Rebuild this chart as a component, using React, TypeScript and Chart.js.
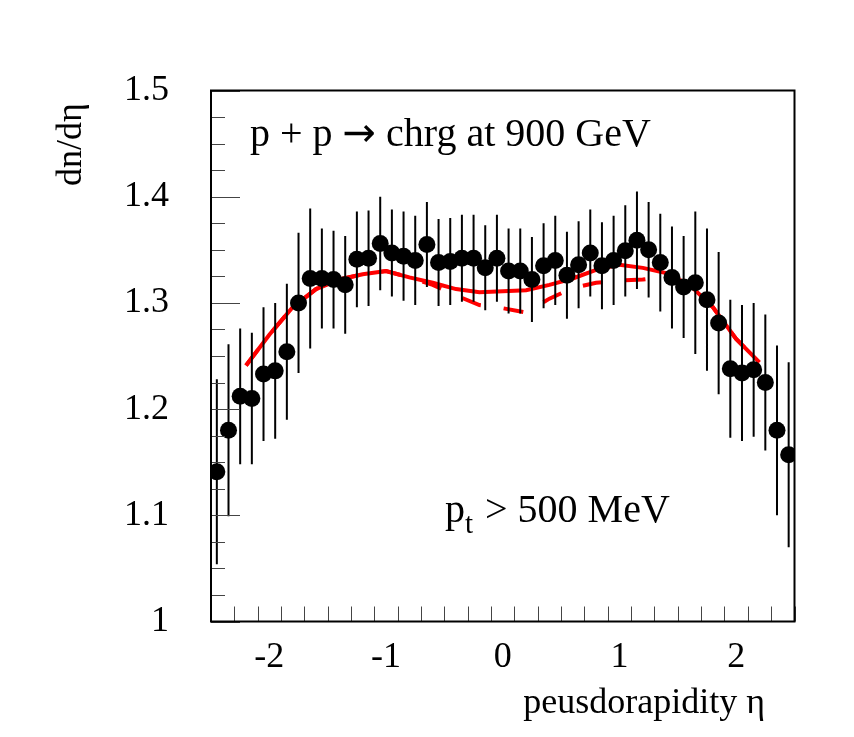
import React, { useEffect, useRef } from "react";
import { Chart, registerables } from "chart.js";

Chart.register(...registerables);

// ---- data ----
const etaValues = [
  -2.45, -2.35, -2.25, -2.15, -2.05, -1.95, -1.85, -1.75, -1.65, -1.55,
  -1.45, -1.35, -1.25, -1.15, -1.05, -0.95, -0.85, -0.75, -0.65, -0.55,
  -0.45, -0.35, -0.25, -0.15, -0.05, 0.05, 0.15, 0.25, 0.35, 0.45,
  0.55, 0.65, 0.75, 0.85, 0.95, 1.05, 1.15, 1.25, 1.35, 1.45,
  1.55, 1.65, 1.75, 1.85, 1.95, 2.05, 2.15, 2.25, 2.35, 2.45,
];
const dndeta = [
  1.141, 1.180, 1.212, 1.210, 1.233, 1.236, 1.254, 1.300, 1.323, 1.323,
  1.322, 1.317, 1.341, 1.342, 1.356, 1.347, 1.344, 1.340, 1.355, 1.338,
  1.339, 1.342, 1.342, 1.333, 1.342, 1.330, 1.330, 1.322, 1.335, 1.340,
  1.326, 1.336, 1.347, 1.335, 1.340, 1.349, 1.359, 1.350, 1.338, 1.324,
  1.315, 1.319, 1.303, 1.281, 1.238, 1.234, 1.237, 1.225, 1.180, 1.157,
];
const dndetaErr = [
  0.087, 0.081, 0.064, 0.062, 0.063, 0.064, 0.064, 0.066, 0.066, 0.047,
  0.046, 0.046, 0.045, 0.045, 0.044, 0.041, 0.042, 0.042, 0.040, 0.041,
  0.041, 0.041, 0.041, 0.040, 0.041, 0.040, 0.040, 0.040, 0.040, 0.042,
  0.041, 0.041, 0.041, 0.041, 0.042, 0.043, 0.046, 0.045, 0.046, 0.048,
  0.048, 0.067, 0.067, 0.067, 0.065, 0.064, 0.063, 0.064, 0.080, 0.087,
];
const modelEta = [
  -2.2, -2.0, -1.8, -1.6, -1.4, -1.2, -1.0, -0.8, -0.6, -0.4, -0.2, 0.0,
  0.2, 0.4, 0.6, 0.8, 1.0, 1.2, 1.4, 1.6, 1.8, 2.0, 2.2,
];
const modelSolid = [
  1.241, 1.270, 1.296, 1.313, 1.322, 1.327, 1.330, 1.324, 1.319, 1.313, 1.310, 1.311,
  1.312, 1.317, 1.323, 1.331, 1.336, 1.333, 1.328, 1.317, 1.296, 1.266, 1.244,
];
const modelDashed = [
  1.241, 1.270, 1.296, 1.313, 1.322, 1.327, 1.330, 1.324, 1.317, 1.307, 1.298, 1.295,
  1.291, 1.304, 1.314, 1.319, 1.321, 1.322, 1.325, 1.317, 1.296, 1.266, 1.244,
];
const xTickValues = [-2, -1, 0, 1, 2];
const xTickLabels = ["-2", "-1", "0", "1", "2"];
const yTickValues = [1, 1.1, 1.2, 1.3, 1.4, 1.5];
const yTickLabels = ["1", "1.1", "1.2", "1.3", "1.4", "1.5"];
const xMinorStep = 0.2;
const yMinorStep = 0.025;
const titleLeft = "p + p ";
const titleArrow = "\u2192";
const titleRight = " chrg at 900 GeV";
const yAxisTitle = "dn/d\u03b7";
const xAxisTitle = "peusdorapidity \u03b7";

const FONT = '"Liberation Serif", "Times New Roman", serif';

const decorPlugin = {
  id: "decor",
  beforeDatasetDraw(chart: any, args: any) {
    if (args.index !== 0) return;
    const { ctx } = chart;
    const x = chart.scales.x;
    const y = chart.scales.y;
    ctx.save();
    ctx.strokeStyle = "#000";
    ctx.lineWidth = 2;
    ctx.beginPath();
    etaValues.forEach((e, i) => {
      const px = x.getPixelForValue(e);
      ctx.moveTo(px, y.getPixelForValue(dndeta[i] - dndetaErr[i]));
      ctx.lineTo(px, y.getPixelForValue(dndeta[i] + dndetaErr[i]));
    });
    ctx.stroke();
    ctx.restore();
  },
  afterDraw(chart: any) {
    const { ctx, chartArea } = chart;
    const x = chart.scales.x;
    const y = chart.scales.y;
    const { left, right, top, bottom } = chartArea;
    ctx.save();
    // ticks (inward)
    ctx.strokeStyle = "#444";
    ctx.lineWidth = 1;
    ctx.beginPath();
    const eps = 1e-6;
    for (let v = x.min; v <= x.max + eps; v += xMinorStep) {
      const vv = Math.round(v * 1000) / 1000;
      const major = xTickValues.some((t) => Math.abs(t - vv) < eps);
      const px = Math.round(x.getPixelForValue(vv)) + 0.5;
      ctx.moveTo(px, bottom);
      ctx.lineTo(px, bottom - (major ? 29 : 15));
    }
    for (let v = y.min; v <= y.max + eps; v += yMinorStep) {
      const vv = Math.round(v * 1000) / 1000;
      const major = yTickValues.some((t) => Math.abs(t - vv) < eps);
      const py = Math.round(y.getPixelForValue(vv)) + 0.5;
      ctx.moveTo(left, py);
      ctx.lineTo(left + (major ? 29 : 14), py);
    }
    ctx.stroke();
    // frame
    ctx.strokeStyle = "#000";
    ctx.lineWidth = 2;
    ctx.strokeRect(left, top, right - left, bottom - top);

    // texts
    ctx.fillStyle = "#000";
    ctx.textBaseline = "alphabetic";
    ctx.textAlign = "left";

    // title line
    let tx = 250;
    ctx.font = `40px ${FONT}`;
    ctx.fillText(titleLeft, tx, 146);
    tx += ctx.measureText(titleLeft).width;
    ctx.font = `40px "DejaVu Sans", sans-serif`;
    ctx.fillText(titleArrow, tx, 146);
    tx += ctx.measureText(titleArrow).width;
    ctx.font = `40px ${FONT}`;
    ctx.fillText(titleRight, tx, 146);

    // p_t > 500 MeV
    tx = 445;
    ctx.font = `40px ${FONT}`;
    ctx.fillText("p", tx, 522);
    tx += ctx.measureText("p").width;
    ctx.font = `29px ${FONT}`;
    ctx.fillText("t", tx, 533);
    tx += ctx.measureText("t").width + 2;
    ctx.font = `40px ${FONT}`;
    ctx.fillText(" > 500 MeV", tx, 522);

    // x axis title
    ctx.font = `36px ${FONT}`;
    ctx.textAlign = "right";
    ctx.fillText(xAxisTitle, 765, 713);

    // y axis title
    ctx.translate(81, 186);
    ctx.rotate(-Math.PI / 2);
    ctx.textAlign = "left";
    ctx.fillText(yAxisTitle, 0, 0);
    ctx.restore();
  },
};

export default function App() {
  const canvasRef = useRef<HTMLCanvasElement | null>(null);

  useEffect(() => {
    const canvas = canvasRef.current;
    if (!canvas) return;
    const chart = new Chart(canvas, {
      type: "scatter",
      data: {
        datasets: [
          {
            label: "data",
            data: etaValues.map((e, i) => ({ x: e, y: dndeta[i] })),
            showLine: false,
            pointRadius: 8.5,
            pointHoverRadius: 8.5,
            pointBackgroundColor: "#000",
            pointBorderWidth: 0,
            borderColor: "#000",
            order: 0,
          },
          {
            label: "model solid",
            type: "line",
            data: modelEta.map((e, i) => ({ x: e, y: modelSolid[i] })),
            showLine: true,
            borderColor: "#ff0000",
            borderWidth: 4,
            pointRadius: 0,
            tension: 0,
            fill: false,
            order: 2,
          },
          {
            label: "model dashed",
            type: "line",
            data: modelEta.map((e, i) => ({ x: e, y: modelDashed[i] })),
            showLine: true,
            borderColor: "#ff0000",
            borderWidth: 4,
            borderDash: [20, 23],
            pointRadius: 0,
            tension: 0,
            fill: false,
            order: 1,
          },
        ] as any,
      },
      options: {
        animation: false,
        responsive: false,
        maintainAspectRatio: false,
        layout: { padding: { left: 0, top: 90.5, right: 59.5, bottom: 0 } },
        plugins: {
          legend: { display: false },
          tooltip: { enabled: false },
          title: { display: false },
        },
        scales: {
          x: {
            type: "linear",
            min: -2.5,
            max: 2.5,
            grid: { display: false },
            border: { display: false },
            afterBuildTicks: (scale: any) => {
              scale.ticks = xTickValues.map((v) => ({ value: v }));
            },
            afterFit: (scale: any) => {
              scale.height = 115.5;
            },
            ticks: {
              color: "#000",
              font: { family: FONT, size: 36 },
              padding: 6,
              maxRotation: 0,
              autoSkip: false,
              callback: (v: any) => {
                const i = xTickValues.findIndex((t) => Math.abs(t - Number(v)) < 1e-6);
                return i >= 0 ? xTickLabels[i] : "";
              },
            },
          },
          y: {
            type: "linear",
            min: 1,
            max: 1.5,
            grid: { display: false },
            border: { display: false },
            afterBuildTicks: (scale: any) => {
              scale.ticks = yTickValues.map((v) => ({ value: v }));
            },
            afterFit: (scale: any) => {
              scale.width = 211;
            },
            ticks: {
              color: "#000",
              font: { family: FONT, size: 36 },
              padding: 34,
              autoSkip: false,
              callback: (v: any) => {
                const i = yTickValues.findIndex((t) => Math.abs(t - Number(v)) < 1e-6);
                return i >= 0 ? yTickLabels[i] : "";
              },
            },
          },
        },
      } as any,
      plugins: [decorPlugin],
    });
    return () => chart.destroy();
  }, []);

  return (
    <div style={{ position: "absolute", left: 0, top: 0, width: 854, height: 737, background: "#fff" }}>
      <canvas ref={canvasRef} width={854} height={737} style={{ display: "block" }} />
    </div>
  );
}
